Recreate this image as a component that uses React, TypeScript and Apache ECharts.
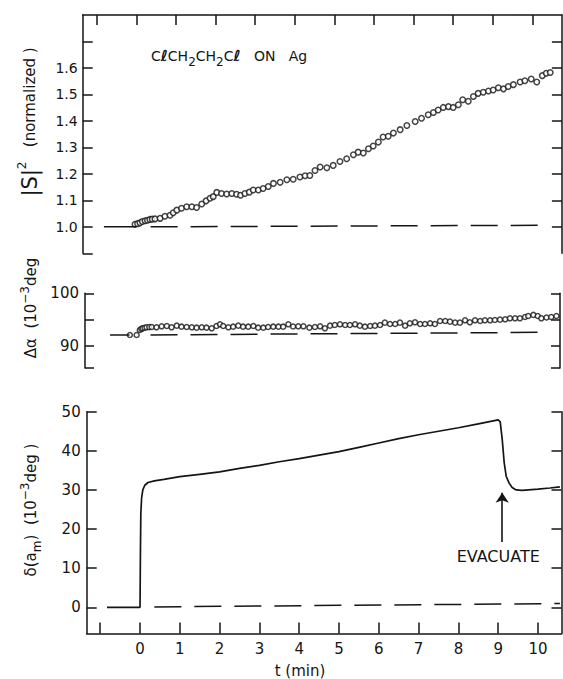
import React, { useEffect, useRef } from "react";
import * as echarts from "echarts";

// |S|^2 (normalized) readings, [t (min), value]
const S2_POINTS: [number, number][] = [
  [-0.035, 1.01], [0.03, 1.012], [0.09, 1.015], [0.15, 1.02], [0.22, 1.023], [0.28, 1.025],
  [0.34, 1.028], [0.4, 1.029], [0.47, 1.03], [0.6, 1.032], [0.72, 1.04], [0.85, 1.044],
  [0.93, 1.053], [1.02, 1.063], [1.14, 1.07], [1.27, 1.076], [1.4, 1.076], [1.52, 1.073],
  [1.65, 1.086], [1.76, 1.098], [1.86, 1.108], [1.94, 1.114], [2.03, 1.13], [2.15, 1.126],
  [2.28, 1.124], [2.41, 1.126], [2.53, 1.123], [2.63, 1.119], [2.74, 1.126], [2.85, 1.131],
  [2.95, 1.139], [3.08, 1.139], [3.2, 1.145], [3.33, 1.152], [3.46, 1.164], [3.63, 1.168],
  [3.8, 1.178], [3.96, 1.18], [4.13, 1.188], [4.26, 1.193], [4.38, 1.194], [4.51, 1.213],
  [4.64, 1.226], [4.81, 1.223], [4.97, 1.232], [5.14, 1.247], [5.31, 1.257], [5.48, 1.272],
  [5.6, 1.282], [5.73, 1.279], [5.86, 1.295], [5.98, 1.305], [6.11, 1.32], [6.23, 1.339],
  [6.36, 1.342], [6.49, 1.354], [6.66, 1.367], [6.83, 1.383], [7.04, 1.398], [7.2, 1.41],
  [7.37, 1.423], [7.5, 1.432], [7.62, 1.441], [7.75, 1.451], [7.88, 1.454], [8.0, 1.451],
  [8.13, 1.461], [8.24, 1.48], [8.38, 1.474], [8.51, 1.492], [8.63, 1.504], [8.76, 1.508],
  [8.89, 1.513], [9.01, 1.517], [9.14, 1.525], [9.27, 1.521], [9.39, 1.53], [9.52, 1.537],
  [9.69, 1.547], [9.81, 1.552], [9.97, 1.558], [10.11, 1.547], [10.25, 1.571], [10.35, 1.58],
  [10.45, 1.583],
];
const S2_BASE: [number, number][] = [[-0.82, 1.0], [0, 1.0]];
const S2_DASHED: [number, number][] = [[0.36, 1.0], [10.4, 1.006]];

// Δα readings, 10^-3 deg
const DALPHA_POINTS: [number, number][] = [
  [-0.19, 92.09], [-0.02, 92.09], [0.06, 93.04], [0.1, 93.25], [0.13, 93.35], [0.18, 93.45],
  [0.23, 93.54], [0.3, 93.58], [0.36, 93.6], [0.48, 93.54], [0.61, 93.73], [0.74, 93.8],
  [0.86, 93.54], [0.99, 93.86], [1.11, 93.67], [1.24, 93.6], [1.37, 93.54], [1.49, 93.48],
  [1.62, 93.54], [1.74, 93.48], [1.87, 93.35], [1.99, 93.8], [2.08, 94.11], [2.16, 93.8],
  [2.29, 93.54], [2.41, 93.67], [2.54, 93.86], [2.66, 93.67], [2.79, 93.67], [2.92, 93.8],
  [3.04, 93.48], [3.17, 93.48], [3.29, 93.6], [3.42, 93.67], [3.55, 93.67], [3.67, 93.67],
  [3.8, 94.11], [3.92, 93.7], [4.05, 93.73], [4.18, 93.73], [4.33, 93.48], [4.47, 93.6],
  [4.6, 93.73], [4.72, 93.35], [4.85, 93.86], [4.97, 93.99], [5.1, 94.11], [5.23, 93.99],
  [5.35, 93.99], [5.48, 94.11], [5.6, 93.86], [5.73, 93.67], [5.86, 93.8], [5.98, 93.86],
  [6.11, 93.99], [6.23, 94.43], [6.36, 94.17], [6.49, 94.17], [6.61, 94.43], [6.74, 93.86],
  [6.86, 94.3], [6.99, 94.49], [7.12, 94.17], [7.24, 94.17], [7.37, 94.3], [7.49, 94.17],
  [7.62, 94.74], [7.75, 94.74], [7.87, 94.62], [8.0, 94.43], [8.12, 94.43], [8.25, 94.87],
  [8.37, 94.49], [8.5, 94.87], [8.63, 94.74], [8.75, 94.87], [8.88, 94.87], [9.0, 94.93],
  [9.13, 95.0], [9.26, 95.06], [9.38, 95.25], [9.51, 95.25], [9.63, 95.25], [9.76, 95.5],
  [9.84, 95.69], [9.97, 95.9], [10.08, 95.7], [10.17, 95.25], [10.3, 95.4], [10.42, 95.5],
  [10.55, 95.7],
];
const DALPHA_BASE: [number, number][] = [[-0.69, 92.1], [-0.2, 92.1]];
const DALPHA_DASHED: [number, number][] = [[0.33, 92.1], [10.4, 92.6]];

// δ(a_m) trace, 10^-3 deg
const DELTA_TRACE: [number, number][] = [
  [-0.83, 0], [0, 0], [0.01, 14], [0.02, 24], [0.04, 28], [0.07, 30], [0.12, 31.2],
  [0.2, 31.9], [0.36, 32.3], [0.6, 32.7], [1.0, 33.4], [1.5, 34.0], [2.0, 34.6],
  [2.5, 35.5], [3.0, 36.3], [3.5, 37.2], [4.0, 38.0], [4.5, 38.9], [5.0, 39.8],
  [5.5, 40.9], [6.0, 42.0], [6.5, 43.1], [7.0, 44.1], [7.5, 45.0], [8.0, 45.9],
  [8.5, 46.9], [9.0, 47.9], [9.05, 47.4], [9.1, 43], [9.15, 37], [9.2, 33.5],
  [9.27, 31.8], [9.35, 30.6], [9.45, 30.0], [9.6, 29.9], [10.0, 30.2], [10.3, 30.5],
  [10.55, 30.8],
];
const DELTA_DASHED: [number, number][] = [[0.36, 0.1], [10.55, 0.95]];
const EVACUATE_ARROW: [number, number][] = [[9.1, 16.7], [9.1, 29.3]];
const EVACUATE_LABEL: [number, number] = [9.0, 13.1];

// Axis ticks and labels
const T_TICKS = [-1, 0, 1, 2, 3, 4, 5, 6, 7, 8, 9, 10];
const T_LABELS = [0, 1, 2, 3, 4, 5, 6, 7, 8, 9, 10];
const S2_TICKS = [0.9, 1.0, 1.1, 1.2, 1.3, 1.4, 1.5, 1.6, 1.7];
const S2_LABELS = [1.0, 1.1, 1.2, 1.3, 1.4, 1.5, 1.6];
const S2_RIGHT_TICKS = [1.0, 1.1, 1.2, 1.3, 1.4, 1.5, 1.6, 1.7];
const DA_TICKS = [85.8, 90, 95, 100];
const DA_LABELS = [90, 100];
const DELTA_TICKS = [0, 10, 20, 30, 40, 50];

const FONT = "'DejaVu Sans', sans-serif";
const INK = "#151515";

// rich-text styles for sub/superscripts in the titles
const richBase = (lh: number, size = 15) => ({
  m: { fontSize: size, fontFamily: FONT, fill: INK, lineHeight: lh, verticalAlign: "middle" },
  big: { fontSize: 21, fontFamily: FONT, fill: INK, lineHeight: lh, verticalAlign: "middle" },
  l: { fontSize: size + 1, fontFamily: FONT, fontWeight: "bold", fill: INK, lineHeight: lh, verticalAlign: "middle" },
  sub: { fontSize: 12, fontFamily: FONT, fill: INK, lineHeight: lh, verticalAlign: "bottom" },
  sup: { fontSize: 12, fontFamily: FONT, fill: INK, lineHeight: lh, verticalAlign: "top" },
});

export default function App() {
  const ref = useRef<HTMLDivElement>(null);

  useEffect(() => {
    if (!ref.current) return;
    const chart = echarts.init(ref.current, undefined, { renderer: "svg" });

    const axisLine = { show: true, onZero: false, lineStyle: { color: INK, width: 1.5 } };
    const tickStyle = { color: INK, width: 1.5 };
    const labelStyle = { color: INK, fontSize: 14, fontFamily: FONT };
    const solid = { color: INK, width: 1.5 };
    const dashed = { color: INK, width: 1.5, type: [27, 13] as number[] };
    const circle = {
      type: "scatter" as const,
      symbol: "circle",
      symbolSize: 5.5,
      itemStyle: { color: "#fff", borderColor: INK, borderWidth: 1.5 },
      silent: true,
    };
    const plainLine = (xi: number, yi: number, data: [number, number][], style: any) => ({
      type: "line" as const,
      xAxisIndex: xi,
      yAxisIndex: yi,
      data,
      showSymbol: false,
      symbol: "none",
      lineStyle: style,
      silent: true,
    });

    chart.setOption({
      animation: false,
      backgroundColor: "#fff",
      textStyle: { fontFamily: FONT, color: INK },
      grid: [
        { left: 82.7, top: 15, width: 479.2, height: 238.3, outerBoundsMode: "none" },
        { left: 85, top: 293.3, width: 475, height: 74.8, outerBoundsMode: "none" },
        { left: 86.7, top: 411.7, width: 474.8, height: 221.8, outerBoundsMode: "none" },
      ],
      xAxis: [
        {
          gridIndex: 0, type: "value", min: -1.356, max: 10.745, position: "top",
          axisLine, splitLine: { show: false },
          axisTick: { show: true, inside: true, length: 10, customValues: T_TICKS, lineStyle: tickStyle },
          axisLabel: { show: false },
        },
        { gridIndex: 1, type: "value", min: -1.32, max: 10.64, show: false },
        {
          gridIndex: 2, type: "value", min: -1.34, max: 10.59, position: "bottom",
          axisLine, splitLine: { show: false },
          axisTick: { show: true, inside: true, length: 11, customValues: T_TICKS, lineStyle: tickStyle },
          axisLabel: { ...labelStyle, fontSize: 15, margin: 8, customValues: T_LABELS },
        },
      ],
      yAxis: [
        {
          gridIndex: 0, type: "value", min: 0.9, max: 1.8, position: "left",
          axisLine, splitLine: { show: false },
          axisTick: { show: true, inside: true, length: 10, customValues: S2_TICKS, lineStyle: tickStyle },
          axisLabel: { ...labelStyle, margin: 5, customValues: S2_LABELS, formatter: (v: number) => v.toFixed(1) },
        },
        {
          gridIndex: 0, type: "value", min: 0.9, max: 1.8, position: "right",
          axisLine, splitLine: { show: false },
          axisTick: { show: true, inside: true, length: 10, customValues: S2_RIGHT_TICKS, lineStyle: tickStyle },
          axisLabel: { show: false },
        },
        {
          gridIndex: 1, type: "value", min: 85.8, max: 100, position: "left",
          axisLine, splitLine: { show: false },
          axisTick: { show: true, inside: true, length: 9, customValues: DA_TICKS, lineStyle: tickStyle },
          axisLabel: { ...labelStyle, fontSize: 15, margin: 6, customValues: DA_LABELS },
        },
        {
          gridIndex: 1, type: "value", min: 85.8, max: 100, position: "right",
          axisLine, splitLine: { show: false },
          axisTick: { show: true, inside: true, length: 9, customValues: DA_TICKS, lineStyle: tickStyle },
          axisLabel: { show: false },
        },
        {
          gridIndex: 2, type: "value", min: -6.7, max: 50, position: "left",
          axisLine, splitLine: { show: false },
          axisTick: { show: true, inside: true, length: 10, customValues: DELTA_TICKS, lineStyle: tickStyle },
          axisLabel: { ...labelStyle, fontSize: 15, margin: 6, customValues: DELTA_TICKS },
        },
        {
          gridIndex: 2, type: "value", min: -6.7, max: 50, position: "right",
          axisLine, splitLine: { show: false },
          axisTick: { show: true, inside: true, length: 10, customValues: DELTA_TICKS, lineStyle: tickStyle },
          axisLabel: { show: false },
        },
      ],
      series: [
        { ...circle, xAxisIndex: 0, yAxisIndex: 0, data: S2_POINTS },
        plainLine(0, 0, S2_BASE, solid),
        plainLine(0, 0, S2_DASHED, dashed),

        { ...circle, xAxisIndex: 1, yAxisIndex: 2, symbolSize: 5, data: DALPHA_POINTS },
        plainLine(1, 2, DALPHA_BASE, solid),
        plainLine(1, 2, DALPHA_DASHED, dashed),

        {
          ...plainLine(2, 4, DELTA_TRACE, { color: INK, width: 1.7 }),
          markLine: {
            silent: true,
            symbol: ["none", "arrow"],
            symbolSize: 10,
            label: { show: false },
            lineStyle: { color: INK, width: 1.6, type: "solid" },
            data: [[{ coord: EVACUATE_ARROW[0] }, { coord: EVACUATE_ARROW[1] }]],
          },
          markPoint: {
            silent: true,
            symbol: "circle",
            symbolSize: 0,
            label: { show: true, position: "inside", formatter: "EVACUATE", color: INK, fontSize: 16, fontFamily: FONT },
            data: [{ coord: EVACUATE_LABEL }],
          },
        },
        plainLine(2, 4, DELTA_DASHED, dashed),
      ],
      graphic: [
        {
          type: "text", x: 151, y: 56,
          style: {
            text: "{m|C}{l|ℓ}{m|CH}{sub|2}{m|CH}{sub|2}{m|C}{l|ℓ}{m|   ON   Ag}",
            textAlign: "left", textVerticalAlign: "middle",
            rich: richBase(24, 14),
          },
        },
        {
          type: "text", x: 30, y: 122, rotation: Math.PI / 2,
          style: {
            text: "{big||S|}{sup|2}{m|   (normalized )}",
            textAlign: "center", textVerticalAlign: "middle",
            rich: richBase(28),
          },
        },
        {
          type: "text", x: 31, y: 308, rotation: Math.PI / 2,
          style: {
            text: "{m|Δα  (10}{sup|−3}{m|deg}",
            textAlign: "center", textVerticalAlign: "middle",
            rich: richBase(24),
          },
        },
        {
          type: "text", x: 31, y: 510, rotation: Math.PI / 2,
          style: {
            text: "{m|δ(a}{sub|m}{m|)  (10}{sup|−3}{m|deg )}",
            textAlign: "center", textVerticalAlign: "middle",
            rich: richBase(24),
          },
        },
        {
          type: "text", x: 300, y: 671,
          style: {
            text: "t (min)", fill: INK, font: `15px ${FONT}`,
            textAlign: "center", textVerticalAlign: "middle",
          },
        },
      ],
    });

    return () => chart.dispose();
  }, []);

  return (
    <div
      ref={ref}
      style={{ position: "fixed", left: 0, top: 0, width: 563, height: 679, background: "#fff" }}
    />
  );
}
